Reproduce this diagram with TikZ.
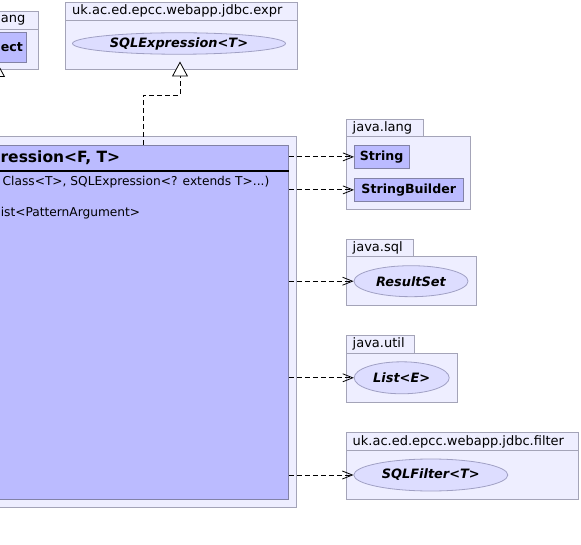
\documentclass[tikz,border=0pt]{standalone}
\usepackage{fontspec}
\setmainfont{DejaVu Sans}
\usetikzlibrary{arrows.meta,shapes.geometric}
\definecolor{pkgfill}{HTML}{EEEEFF}
\definecolor{pkgline}{HTML}{A4A4B8}
\definecolor{clsfill}{HTML}{BBBBFF}
\definecolor{clsline}{HTML}{8282A6}
\definecolor{iffill}{HTML}{DDDDFF}
\definecolor{ifline}{HTML}{A0A0C4}
\tikzset{
  pkgbox/.style={draw=pkgline, fill=pkgfill, line width=0.8pt},
  pkglabel/.style={anchor=west, inner sep=0pt, font=\fontsize{13}{15}\selectfont},
  clsbox/.style={draw=clsline, fill=clsfill, line width=0.8pt, inner sep=0pt,
                 font=\fontsize{12.6}{14}\selectfont\bfseries},
  ifell/.style={ellipse, draw=ifline, fill=iffill, line width=0.8pt, inner sep=0pt,
                font=\fontsize{12.9}{14}\selectfont\bfseries\itshape},
  memb/.style={anchor=west, inner sep=0pt, font=\fontsize{12.2}{14}\selectfont},
  dep/.style={draw=black, line width=0.8pt, dash pattern=on 5pt off 3pt,
              -{Straight Barb[length=10pt,width=8pt]}},
  gen/.style={draw=black, line width=0.8pt, dash pattern=on 5pt off 3pt,
              -{Triangle[open,length=15pt,width=16pt,fill=white]}}
}
\begin{document}
\begin{tikzpicture}[x=1pt,y=-1pt]
\useasboundingbox (0,0) rectangle (581,545);
% left java.lang package (cut)
\filldraw[pkgbox] (-80,11) rectangle (38,29);
\filldraw[pkgbox] (-80,29) rectangle (38,69);
\node[pkglabel] (lnglbl) at (0.6,20) {ang};
\node[clsbox, minimum width=60pt, minimum height=30pt, anchor=north east] (obj) at (27,32) {};
\node[anchor=west, inner sep=0pt, font=\fontsize{12.6}{14}\selectfont\bfseries] (objtxt) at (0.6,47) {ect};
% expr package
\filldraw[pkgbox] (65,2) rectangle (297,20);
\filldraw[pkgbox] (65,20) rectangle (297,69);
\node[pkglabel] (exprlbl) at (72,11) {uk.ac.ed.epcc.webapp.jdbc.expr};
\node[ifell, minimum width=213pt, minimum height=21.5pt] (sqlexpr) at (179,43.5) {SQLExpression<T>};
% main package and class
\filldraw[pkgbox] (-10,136) rectangle (296,507);
\node[clsbox, minimum width=298pt, minimum height=354pt, anchor=north west] (cls) at (-10,145) {};
\draw[line width=1.6pt] (cls.west |- 0,171) -- (cls.east |- 0,171);
\node[anchor=west, inner sep=0pt, font=\fontsize{15.5}{18}\selectfont\bfseries] (title) at (0.4,158) {ression<F, T>};
\node[memb] (m1) at (2.5,182.5) {Class<T>, SQLExpression<? extends T>...)};
\node[memb] (m2) at (0.6,213) {ist<PatternArgument>};
% java.lang package
\filldraw[pkgbox] (346.7,119) rectangle (423,136);
\filldraw[pkgbox] (346.7,136) rectangle (470,209);
\node[pkglabel] (jllbl) at (352.5,127.5) {java.lang};
\node[clsbox, minimum width=54.5pt, minimum height=23pt, anchor=north west] (str) at (354,145) {String};
\node[clsbox, minimum width=108.7pt, minimum height=23pt, anchor=north west] (sb) at (354,178) {StringBuilder};
% java.sql package
\filldraw[pkgbox] (346.7,239) rectangle (413.3,256.7);
\filldraw[pkgbox] (346.7,256.7) rectangle (476.7,305);
\node[pkglabel] (jslbl) at (352.5,247.5) {java.sql};
\node[ifell, minimum width=114pt, minimum height=31pt] (rs) at (411,281.2) {ResultSet};
% java.util package
\filldraw[pkgbox] (346.7,335.7) rectangle (414.3,353);
\filldraw[pkgbox] (346.7,353) rectangle (457.3,402.7);
\node[pkglabel] (jullbl) at (352.5,344) {java.util};
\node[ifell, minimum width=95pt, minimum height=32pt] (lst) at (401.7,377.8) {List<E>};
% filter package
\filldraw[pkgbox] (346.7,432.7) rectangle (578.3,450.7);
\filldraw[pkgbox] (346.7,450.7) rectangle (578.3,499);
\node[pkglabel] (fltlbl) at (352.5,441.7) {uk.ac.ed.epcc.webapp.jdbc.filter};
\node[ifell, minimum width=154pt, minimum height=32pt] (flt) at (430.8,475) {SQLFilter<T>};
% connectors
\coordinate (bend1) at (143,95);
\coordinate (bend2) at (180,95);
\coordinate (exprtip) at (180,61.5);
\draw[gen] (cls.north -| bend1) -- (bend1) -- (bend2) -- (exprtip);
\coordinate (objfoot) at (-3,136);
\coordinate (objtip) at (-3,62);
\draw[gen, solid] (objfoot) -- (objtip);
\draw[dep] (cls.east |- str.west) -- (str.west);
\draw[dep] (cls.east |- sb.west) -- (sb.west);
\draw[dep] (cls.east |- rs.west) -- (rs.west);
\draw[dep] (cls.east |- lst.west) -- (lst.west);
\draw[dep] (cls.east |- flt.west) -- (flt.west);
\end{tikzpicture}
\end{document}
